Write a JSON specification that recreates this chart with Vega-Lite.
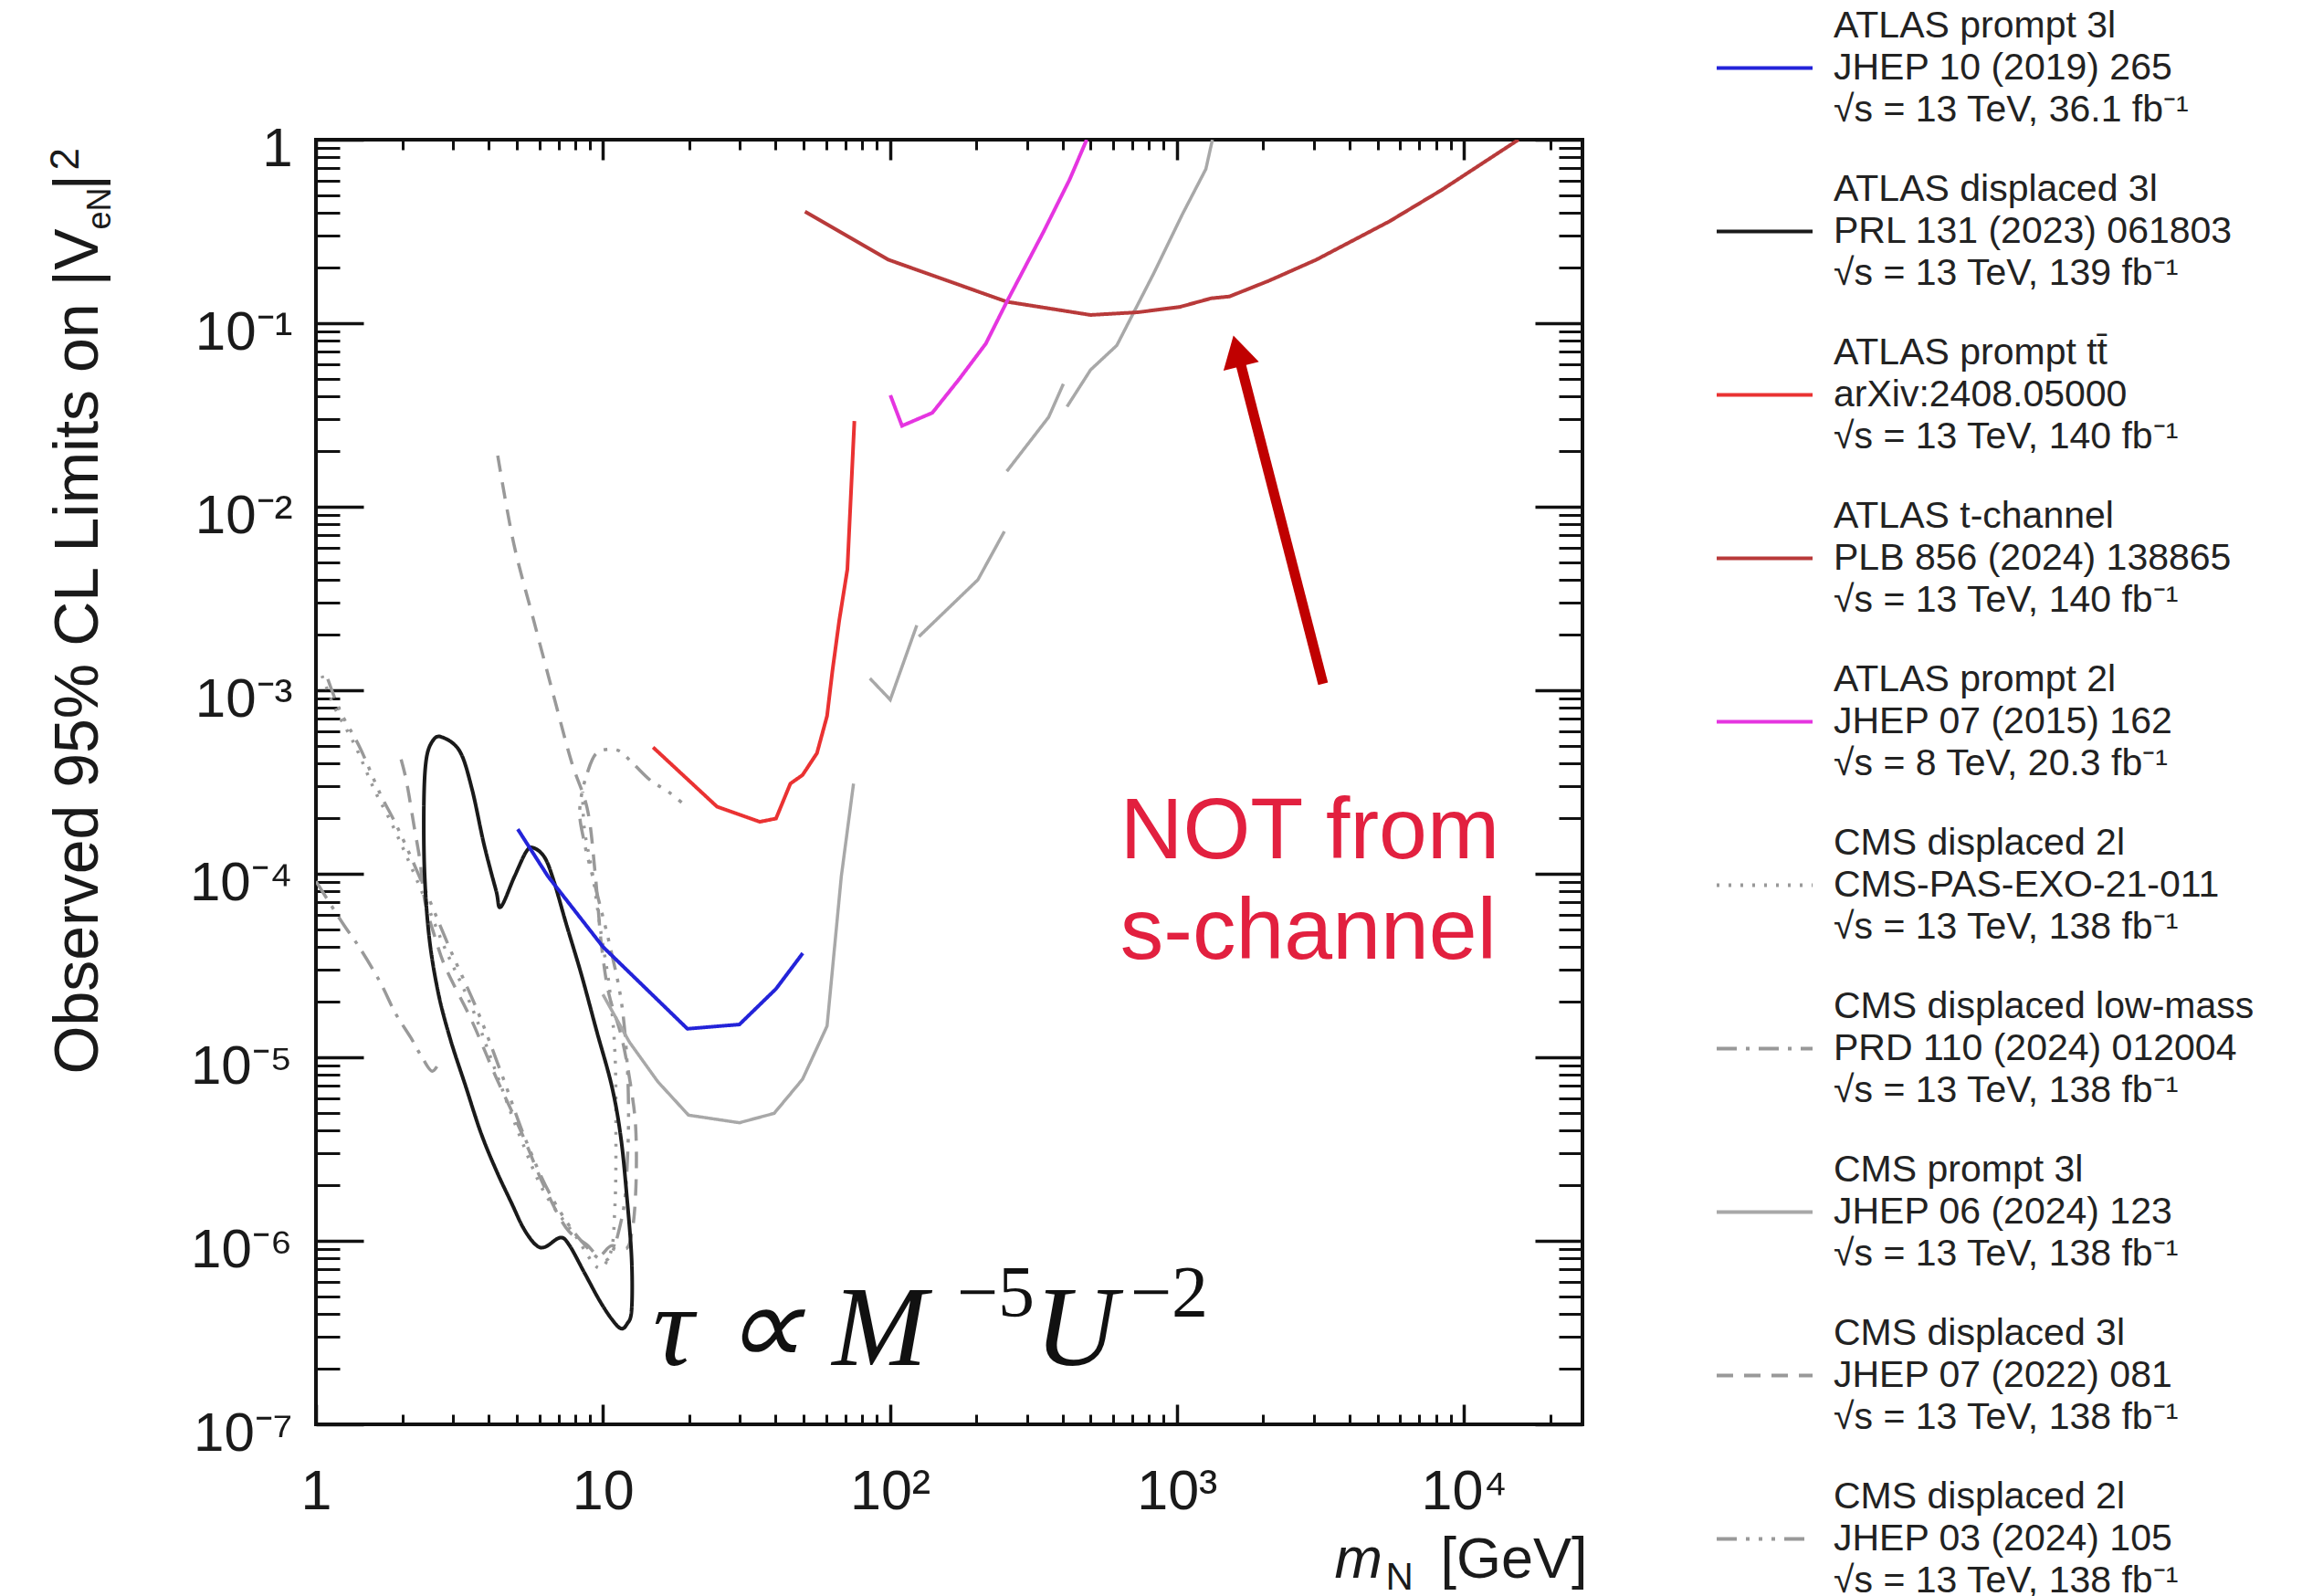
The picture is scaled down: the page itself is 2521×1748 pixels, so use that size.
{
  "$schema": "https://vega.github.io/schema/vega-lite/v6.json",
  "width": 1387,
  "height": 1407,
  "autosize": {"type": "none"},
  "padding": {"left": 346, "top": 153, "right": 788, "bottom": 188},
  "background": "white",
  "config": {
    "view": {"stroke": "#111111", "strokeWidth": 4},
    "font": "Liberation Sans",
    "axis": {"grid": false, "domain": false, "tickColor": "#111111", "labelColor": "#1a1a1a", "titleColor": "#1a1a1a", "titleFontWeight": "normal", "labelFont": "Liberation Sans", "titleFont": "Liberation Sans", "labelFlush": false, "labelOverlap": false, "labelBound": false}
  },
  "datasets": {
    "curves": [
      {"s": "a3l", "g": 1, "o": 1, "x": 5.05, "y": 1.75e-4},
      {"s": "a3l", "g": 1, "o": 2, "x": 6.43, "y": 9.7e-5},
      {"s": "a3l", "g": 1, "o": 3, "x": 10.0, "y": 4.0e-5},
      {"s": "a3l", "g": 1, "o": 4, "x": 19.7, "y": 1.43e-5},
      {"s": "a3l", "g": 1, "o": 5, "x": 29.9, "y": 1.51e-5},
      {"s": "a3l", "g": 1, "o": 6, "x": 40.1, "y": 2.36e-5},
      {"s": "a3l", "g": 1, "o": 7, "x": 49.7, "y": 3.69e-5},

      {"s": "adisp", "g": 1, "o": 1, "x": 2.735, "y": 5.57e-4},
      {"s": "adisp", "g": 1, "o": 2, "x": 3.166, "y": 4.67e-4},
      {"s": "adisp", "g": 1, "o": 3, "x": 3.493, "y": 2.92e-4},
      {"s": "adisp", "g": 1, "o": 4, "x": 3.85, "y": 1.45e-4},
      {"s": "adisp", "g": 1, "o": 5, "x": 4.244, "y": 8.09e-5},
      {"s": "adisp", "g": 1, "o": 6, "x": 4.404, "y": 6.59e-5},
      {"s": "adisp", "g": 1, "o": 7, "x": 4.915, "y": 9.64e-5},
      {"s": "adisp", "g": 1, "o": 8, "x": 5.42, "y": 1.33e-4},
      {"s": "adisp", "g": 1, "o": 9, "x": 5.76, "y": 1.38e-4},
      {"s": "adisp", "g": 1, "o": 10, "x": 6.28, "y": 1.22e-4},
      {"s": "adisp", "g": 1, "o": 11, "x": 6.75, "y": 9.09e-5},
      {"s": "adisp", "g": 1, "o": 12, "x": 7.44, "y": 5.37e-5},
      {"s": "adisp", "g": 1, "o": 13, "x": 8.41, "y": 2.83e-5},
      {"s": "adisp", "g": 1, "o": 14, "x": 9.5, "y": 1.4e-5},
      {"s": "adisp", "g": 1, "o": 15, "x": 10.74, "y": 6.95e-6},
      {"s": "adisp", "g": 1, "o": 16, "x": 11.55, "y": 3.65e-6},
      {"s": "adisp", "g": 1, "o": 17, "x": 12.13, "y": 1.71e-6},
      {"s": "adisp", "g": 1, "o": 18, "x": 12.59, "y": 7.98e-7},
      {"s": "adisp", "g": 1, "o": 19, "x": 12.59, "y": 4.2e-7},
      {"s": "adisp", "g": 1, "o": 20, "x": 12.13, "y": 3.52e-7},
      {"s": "adisp", "g": 1, "o": 21, "x": 11.55, "y": 3.33e-7},
      {"s": "adisp", "g": 1, "o": 22, "x": 10.74, "y": 3.74e-7},
      {"s": "adisp", "g": 1, "o": 23, "x": 9.74, "y": 4.72e-7},
      {"s": "adisp", "g": 1, "o": 24, "x": 8.62, "y": 6.7e-7},
      {"s": "adisp", "g": 1, "o": 25, "x": 7.62, "y": 9.52e-7},
      {"s": "adisp", "g": 1, "o": 26, "x": 7.09, "y": 1.04e-6},
      {"s": "adisp", "g": 1, "o": 27, "x": 6.28, "y": 9.25e-7},
      {"s": "adisp", "g": 1, "o": 28, "x": 5.83, "y": 9.52e-7},
      {"s": "adisp", "g": 1, "o": 29, "x": 5.29, "y": 1.17e-6},
      {"s": "adisp", "g": 1, "o": 30, "x": 4.8, "y": 1.61e-6},
      {"s": "adisp", "g": 1, "o": 31, "x": 4.244, "y": 2.43e-6},
      {"s": "adisp", "g": 1, "o": 32, "x": 3.758, "y": 3.87e-6},
      {"s": "adisp", "g": 1, "o": 33, "x": 3.325, "y": 6.95e-6},
      {"s": "adisp", "g": 1, "o": 34, "x": 2.942, "y": 1.25e-5},
      {"s": "adisp", "g": 1, "o": 35, "x": 2.669, "y": 2.24e-5},
      {"s": "adisp", "g": 1, "o": 36, "x": 2.481, "y": 4.51e-5},
      {"s": "adisp", "g": 1, "o": 37, "x": 2.39, "y": 1.02e-4},
      {"s": "adisp", "g": 1, "o": 38, "x": 2.378, "y": 2.45e-4},
      {"s": "adisp", "g": 1, "o": 39, "x": 2.421, "y": 4.15e-4},
      {"s": "adisp", "g": 1, "o": 40, "x": 2.541, "y": 5.25e-4},

      {"s": "att", "g": 1, "o": 1, "x": 14.95, "y": 4.89e-4},
      {"s": "att", "g": 1, "o": 2, "x": 24.99, "y": 2.32e-4},
      {"s": "att", "g": 1, "o": 3, "x": 35.2, "y": 1.92e-4},
      {"s": "att", "g": 1, "o": 4, "x": 40.1, "y": 2.0e-4},
      {"s": "att", "g": 1, "o": 5, "x": 45.0, "y": 3.1e-4},
      {"s": "att", "g": 1, "o": 6, "x": 49.6, "y": 3.45e-4},
      {"s": "att", "g": 1, "o": 7, "x": 55.7, "y": 4.54e-4},
      {"s": "att", "g": 1, "o": 8, "x": 60.4, "y": 7.24e-4},
      {"s": "att", "g": 1, "o": 9, "x": 63.0, "y": 1.26e-3},
      {"s": "att", "g": 1, "o": 10, "x": 66.6, "y": 2.4e-3},
      {"s": "att", "g": 1, "o": 11, "x": 71.1, "y": 4.56e-3},
      {"s": "att", "g": 1, "o": 12, "x": 75.2, "y": 2.93e-2},

      {"s": "atch", "g": 1, "o": 1, "x": 50.6, "y": 0.406},
      {"s": "atch", "g": 1, "o": 2, "x": 99.1, "y": 0.2214},
      {"s": "atch", "g": 1, "o": 3, "x": 255.5, "y": 0.1309},
      {"s": "atch", "g": 1, "o": 4, "x": 500.4, "y": 0.1109},
      {"s": "atch", "g": 1, "o": 5, "x": 730.6, "y": 0.1147},
      {"s": "atch", "g": 1, "o": 6, "x": 1023, "y": 0.1226},
      {"s": "atch", "g": 1, "o": 7, "x": 1317, "y": 0.1367},
      {"s": "atch", "g": 1, "o": 8, "x": 1526, "y": 0.1399},
      {"s": "atch", "g": 1, "o": 9, "x": 2092, "y": 0.1703},
      {"s": "atch", "g": 1, "o": 10, "x": 3054, "y": 0.2214},
      {"s": "atch", "g": 1, "o": 11, "x": 5501, "y": 0.3587},
      {"s": "atch", "g": 1, "o": 12, "x": 8375, "y": 0.5325},
      {"s": "atch", "g": 1, "o": 13, "x": 15500, "y": 1.0},

      {"s": "a2l", "g": 1, "o": 1, "x": 100.4, "y": 0.0405},
      {"s": "a2l", "g": 1, "o": 2, "x": 110.2, "y": 0.0276},
      {"s": "a2l", "g": 1, "o": 3, "x": 140.6, "y": 0.0325},
      {"s": "a2l", "g": 1, "o": 4, "x": 174.9, "y": 0.0499},
      {"s": "a2l", "g": 1, "o": 5, "x": 215.9, "y": 0.0774},
      {"s": "a2l", "g": 1, "o": 6, "x": 255.5, "y": 0.1309},
      {"s": "a2l", "g": 1, "o": 7, "x": 342.9, "y": 0.3144},
      {"s": "a2l", "g": 1, "o": 8, "x": 423.2, "y": 0.6076},
      {"s": "a2l", "g": 1, "o": 9, "x": 485, "y": 1.0},

      {"s": "c3l", "g": 1, "o": 1, "x": 10.0, "y": 2.2e-5},
      {"s": "c3l", "g": 1, "o": 2, "x": 12.37, "y": 1.21e-5},
      {"s": "c3l", "g": 1, "o": 3, "x": 15.54, "y": 7.36e-6},
      {"s": "c3l", "g": 1, "o": 4, "x": 19.87, "y": 4.84e-6},
      {"s": "c3l", "g": 1, "o": 5, "x": 29.9, "y": 4.4e-6},
      {"s": "c3l", "g": 1, "o": 6, "x": 39.5, "y": 4.95e-6},
      {"s": "c3l", "g": 1, "o": 7, "x": 49.6, "y": 7.59e-6},
      {"s": "c3l", "g": 1, "o": 8, "x": 60.4, "y": 1.48e-5},
      {"s": "c3l", "g": 1, "o": 9, "x": 67.7, "y": 9.64e-5},
      {"s": "c3l", "g": 1, "o": 10, "x": 74.7, "y": 3.1e-4},
      {"s": "c3l", "g": 2, "o": 11, "x": 85.2, "y": 1.16e-3},
      {"s": "c3l", "g": 2, "o": 12, "x": 100.3, "y": 8.88e-4},
      {"s": "c3l", "g": 2, "o": 13, "x": 124.1, "y": 2.26e-3},
      {"s": "c3l", "g": 3, "o": 14, "x": 126.2, "y": 1.96e-3},
      {"s": "c3l", "g": 3, "o": 15, "x": 202.6, "y": 4.0e-3},
      {"s": "c3l", "g": 3, "o": 16, "x": 250.6, "y": 7.34e-3},
      {"s": "c3l", "g": 4, "o": 17, "x": 255.5, "y": 1.56e-2},
      {"s": "c3l", "g": 4, "o": 18, "x": 357.5, "y": 3.08e-2},
      {"s": "c3l", "g": 4, "o": 19, "x": 402.3, "y": 4.67e-2},
      {"s": "c3l", "g": 5, "o": 20, "x": 414.2, "y": 3.51e-2},
      {"s": "c3l", "g": 5, "o": 21, "x": 500.4, "y": 5.57e-2},
      {"s": "c3l", "g": 5, "o": 22, "x": 617.6, "y": 7.57e-2},
      {"s": "c3l", "g": 5, "o": 23, "x": 829, "y": 0.1858},
      {"s": "c3l", "g": 5, "o": 24, "x": 1045, "y": 0.3918},
      {"s": "c3l", "g": 5, "o": 25, "x": 1262, "y": 0.692},
      {"s": "c3l", "g": 5, "o": 26, "x": 1330, "y": 1.0},

      {"s": "clow", "g": 1, "o": 1, "x": 1.0, "y": 9.1e-5},
      {"s": "clow", "g": 1, "o": 2, "x": 1.252, "y": 5.25e-5},
      {"s": "clow", "g": 1, "o": 3, "x": 1.413, "y": 4.0e-5},
      {"s": "clow", "g": 1, "o": 4, "x": 1.68, "y": 2.54e-5},
      {"s": "clow", "g": 1, "o": 5, "x": 1.895, "y": 1.73e-5},
      {"s": "clow", "g": 1, "o": 6, "x": 2.14, "y": 1.28e-5},
      {"s": "clow", "g": 1, "o": 7, "x": 2.36, "y": 9.8e-6},
      {"s": "clow", "g": 1, "o": 8, "x": 2.54, "y": 8.4e-6},
      {"s": "clow", "g": 1, "o": 9, "x": 2.64, "y": 8.9e-6},

      {"s": "cpas", "g": 1, "o": 1, "x": 1.05, "y": 1.2e-3},
      {"s": "cpas", "g": 1, "o": 2, "x": 1.16, "y": 8.1e-4},
      {"s": "cpas", "g": 1, "o": 3, "x": 1.36, "y": 5.1e-4},
      {"s": "cpas", "g": 1, "o": 4, "x": 1.61, "y": 2.8e-4},
      {"s": "cpas", "g": 1, "o": 5, "x": 1.83, "y": 1.9e-4},
      {"s": "cpas", "g": 1, "o": 6, "x": 2.3, "y": 8.5e-5},
      {"s": "cpas", "g": 1, "o": 7, "x": 2.8, "y": 4.0e-5},
      {"s": "cpas", "g": 1, "o": 8, "x": 3.49, "y": 1.88e-5},
      {"s": "cpas", "g": 1, "o": 9, "x": 4.24, "y": 8.3e-6},
      {"s": "cpas", "g": 1, "o": 10, "x": 5.16, "y": 3.65e-6},
      {"s": "cpas", "g": 1, "o": 11, "x": 6.28, "y": 1.81e-6},
      {"s": "cpas", "g": 1, "o": 12, "x": 8.0, "y": 1.07e-6},
      {"s": "cpas", "g": 1, "o": 13, "x": 9.74, "y": 7.1e-7},
      {"s": "cpas", "g": 1, "o": 14, "x": 10.6, "y": 8.5e-7},
      {"s": "cpas", "g": 1, "o": 15, "x": 11.0, "y": 1.5e-6},
      {"s": "cpas", "g": 1, "o": 16, "x": 11.1, "y": 4.0e-6},
      {"s": "cpas", "g": 1, "o": 17, "x": 11.0, "y": 1.1e-5},
      {"s": "cpas", "g": 1, "o": 18, "x": 10.5, "y": 2.5e-5},
      {"s": "cpas", "g": 1, "o": 19, "x": 9.8, "y": 5.0e-5},
      {"s": "cpas", "g": 1, "o": 20, "x": 9.2, "y": 1.0e-4},
      {"s": "cpas", "g": 1, "o": 21, "x": 8.6, "y": 1.8e-4},
      {"s": "cpas", "g": 1, "o": 22, "x": 8.5, "y": 2.8e-4},

      {"s": "cd2l", "g": 1, "o": 1, "x": 1.1, "y": 1.15e-3},
      {"s": "cd2l", "g": 1, "o": 2, "x": 1.21, "y": 7.8e-4},
      {"s": "cd2l", "g": 1, "o": 3, "x": 1.42, "y": 4.9e-4},
      {"s": "cd2l", "g": 1, "o": 4, "x": 1.68, "y": 2.7e-4},
      {"s": "cd2l", "g": 1, "o": 5, "x": 1.92, "y": 1.8e-4},
      {"s": "cd2l", "g": 1, "o": 6, "x": 2.4, "y": 8.2e-5},
      {"s": "cd2l", "g": 1, "o": 7, "x": 2.93, "y": 3.9e-5},
      {"s": "cd2l", "g": 1, "o": 8, "x": 3.65, "y": 1.8e-5},
      {"s": "cd2l", "g": 1, "o": 9, "x": 4.45, "y": 8.0e-6},
      {"s": "cd2l", "g": 1, "o": 10, "x": 5.4, "y": 3.5e-6},
      {"s": "cd2l", "g": 1, "o": 11, "x": 6.6, "y": 1.75e-6},
      {"s": "cd2l", "g": 1, "o": 12, "x": 8.4, "y": 1.0e-6},
      {"s": "cd2l", "g": 1, "o": 13, "x": 10.2, "y": 7.8e-7},
      {"s": "cd2l", "g": 1, "o": 14, "x": 11.6, "y": 1.3e-6},
      {"s": "cd2l", "g": 1, "o": 15, "x": 12.2, "y": 3.0e-6},
      {"s": "cd2l", "g": 1, "o": 16, "x": 12.2, "y": 8.0e-6},
      {"s": "cd2l", "g": 1, "o": 17, "x": 11.6, "y": 2.0e-5},
      {"s": "cd2l", "g": 1, "o": 18, "x": 10.6, "y": 4.0e-5},
      {"s": "cd2l", "g": 1, "o": 19, "x": 9.5, "y": 8.0e-5},
      {"s": "cd2l", "g": 1, "o": 20, "x": 8.6, "y": 1.5e-4},
      {"s": "cd2l", "g": 1, "o": 21, "x": 8.3, "y": 2.2e-4},
      {"s": "cd2l", "g": 1, "o": 22, "x": 8.8, "y": 3.5e-4},
      {"s": "cd2l", "g": 1, "o": 23, "x": 9.6, "y": 4.6e-4},
      {"s": "cd2l", "g": 1, "o": 24, "x": 11.3, "y": 4.7e-4},
      {"s": "cd2l", "g": 1, "o": 25, "x": 12.7, "y": 4.0e-4},
      {"s": "cd2l", "g": 1, "o": 26, "x": 14.75, "y": 3.2e-4},
      {"s": "cd2l", "g": 1, "o": 27, "x": 16.9, "y": 2.8e-4},
      {"s": "cd2l", "g": 1, "o": 28, "x": 19.5, "y": 2.33e-4},

      {"s": "cd3l", "g": 1, "o": 1, "x": 4.3, "y": 1.9e-2},
      {"s": "cd3l", "g": 1, "o": 2, "x": 4.9, "y": 6.2e-3},
      {"s": "cd3l", "g": 1, "o": 3, "x": 5.7, "y": 2.5e-3},
      {"s": "cd3l", "g": 1, "o": 4, "x": 6.75, "y": 9.2e-4},
      {"s": "cd3l", "g": 1, "o": 5, "x": 7.8, "y": 4.0e-4},
      {"s": "cd3l", "g": 1, "o": 6, "x": 8.8, "y": 2.3e-4},
      {"s": "cd3l", "g": 1, "o": 7, "x": 9.4, "y": 1.0e-4},
      {"s": "cd3l", "g": 1, "o": 8, "x": 9.9, "y": 4.0e-5},
      {"s": "cd3l", "g": 1, "o": 9, "x": 10.5, "y": 2.2e-5},
      {"s": "cd3l", "g": 1, "o": 10, "x": 11.6, "y": 1.3e-5},
      {"s": "cd3l", "g": 1, "o": 11, "x": 12.5, "y": 7.0e-6},
      {"s": "cd3l", "g": 1, "o": 12, "x": 13.0, "y": 4.2e-6},
      {"s": "cd3l", "g": 1, "o": 13, "x": 13.0, "y": 1.8e-6},
      {"s": "cd3l", "g": 1, "o": 14, "x": 12.6, "y": 1.1e-6},
      {"s": "cd3l", "g": 1, "o": 15, "x": 12.1, "y": 9.1e-7},
      {"s": "cd3l", "g": 1, "o": 16, "x": 10.7, "y": 9.4e-7},
      {"s": "cd3l", "g": 1, "o": 17, "x": 9.7, "y": 8.3e-7},
      {"s": "cd3l", "g": 1, "o": 18, "x": 8.8, "y": 9.5e-7},
      {"s": "cd3l", "g": 1, "o": 19, "x": 7.6, "y": 1.13e-6},
      {"s": "cd3l", "g": 1, "o": 20, "x": 6.3, "y": 1.92e-6},
      {"s": "cd3l", "g": 1, "o": 21, "x": 5.2, "y": 3.9e-6},
      {"s": "cd3l", "g": 1, "o": 22, "x": 4.24, "y": 7.8e-6},
      {"s": "cd3l", "g": 1, "o": 23, "x": 3.5, "y": 1.57e-5},
      {"s": "cd3l", "g": 1, "o": 24, "x": 2.8, "y": 3.2e-5},
      {"s": "cd3l", "g": 1, "o": 25, "x": 2.6, "y": 4.5e-5},
      {"s": "cd3l", "g": 1, "o": 26, "x": 2.4, "y": 7.0e-5},
      {"s": "cd3l", "g": 1, "o": 27, "x": 2.3, "y": 1.2e-4},
      {"s": "cd3l", "g": 1, "o": 28, "x": 2.2, "y": 1.8e-4},
      {"s": "cd3l", "g": 1, "o": 29, "x": 2.05, "y": 3.4e-4},
      {"s": "cd3l", "g": 1, "o": 30, "x": 1.94, "y": 4.7e-4}
    ]
  },
  "resolve": {"axis": {"x": "independent", "y": "independent"}},
  "layer": [
    {
      "data": {"name": "curves"},
      "transform": [{"filter": "indexof(['cpas', 'clow', 'cd3l', 'cd2l'], datum.s) >= 0"}],
      "mark": {"type": "line", "interpolate": "catmull-rom", "strokeWidth": 3.5, "clip": true},
      "encoding": {
        "x": {"field": "x", "type": "quantitative", "scale": {"type": "log", "domain": [1, 25900], "nice": false},
          "axis": {"orient": "bottom", "values": [1, 10, 100, 1000, 10000], "tickSize": -22, "tickWidth": 3.5,
            "labelExpr": "datum.value < 5 ? '1' : datum.value < 50 ? '10' : '10' + ['', '', '²', '³', '⁴'][round(log(datum.value) / LN10)]",
            "labelFontSize": 61, "labelPadding": 66,
            "title": "m", "titleFontStyle": "italic", "titleFontSize": 63, "titleX": 1115, "titleY": 167, "titleAlign": "left", "titleBaseline": "alphabetic"}},
        "y": {"field": "y", "type": "quantitative", "scale": {"type": "log", "domain": [1e-7, 1], "nice": false},
          "axis": {"orient": "left", "values": [1e-7, 1e-6, 1e-5, 1e-4, 1e-3, 1e-2, 1e-1, 1], "tickSize": -52, "tickWidth": 3.5,
            "labelExpr": "datum.value > 0.5 ? '1' : '10⁻' + ['', '¹', '²', '³', '⁴', '⁵', '⁶', '⁷'][round(-log(datum.value) / LN10)]",
            "labelFontSize": 60, "labelPadding": 78, "labelOffset": 10,
            "title": "Observed 95% CL Limits on |V", "titleFontSize": 68, "titleAngle": 270, "titleX": -240, "titleY": 1023, "titleAlign": "left", "titleBaseline": "alphabetic"}},
        "color": {"field": "s", "type": "nominal",
          "scale": {"domain": ["a3l", "adisp", "att", "atch", "a2l", "cpas", "clow", "c3l", "cd3l", "cd2l"], "range": ["#2323d9", "#1a1a1a", "#ea3232", "#b83a3a", "#e535e0", "#999999", "#999999", "#a8a8a8", "#999999", "#999999"]},
          "legend": {"orient": "none", "legendX": 1532, "legendY": -133, "title": null, "symbolType": "stroke", "symbolSize": 11025, "symbolStrokeWidth": 4, "labelFontSize": 41, "labelFont": "Liberation Sans", "labelColor": "#222222", "labelLimit": 800, "labelOffset": 21, "rowPadding": 45, "padding": 0,
            "labelExpr": "datum.label == 'a3l' ? ['ATLAS prompt 3l', 'JHEP 10 (2019) 265', '√s = 13 TeV, 36.1 fb⁻¹'] : datum.label == 'adisp' ? ['ATLAS displaced 3l', 'PRL 131 (2023) 061803', '√s = 13 TeV, 139 fb⁻¹'] : datum.label == 'att' ? ['ATLAS prompt tt̄', 'arXiv:2408.05000', '√s = 13 TeV, 140 fb⁻¹'] : datum.label == 'atch' ? ['ATLAS t-channel', 'PLB 856 (2024) 138865', '√s = 13 TeV, 140 fb⁻¹'] : datum.label == 'a2l' ? ['ATLAS prompt 2l', 'JHEP 07 (2015) 162', '√s = 8 TeV, 20.3 fb⁻¹'] : datum.label == 'cpas' ? ['CMS displaced 2l', 'CMS-PAS-EXO-21-011', '√s = 13 TeV, 138 fb⁻¹'] : datum.label == 'clow' ? ['CMS displaced low-mass', 'PRD 110 (2024) 012004', '√s = 13 TeV, 138 fb⁻¹'] : datum.label == 'c3l' ? ['CMS prompt 3l', 'JHEP 06 (2024) 123', '√s = 13 TeV, 138 fb⁻¹'] : datum.label == 'cd3l' ? ['CMS displaced 3l', 'JHEP 07 (2022) 081', '√s = 13 TeV, 138 fb⁻¹'] : ['CMS displaced 2l', 'JHEP 03 (2024) 105', '√s = 13 TeV, 138 fb⁻¹']",
            "encoding": {"labels": {"lineHeight": {"value": 46}, "dy": {"value": -46}}}}},
        "strokeDash": {"field": "s", "type": "nominal",
          "scale": {"domain": ["a3l", "adisp", "att", "atch", "a2l", "cpas", "clow", "c3l", "cd3l", "cd2l"], "range": [[1, 0], [1, 0], [1, 0], [1, 0], [1, 0], [3, 10], [22, 10, 4, 10], [1, 0], [18, 12], [22, 10, 4, 10, 4, 10, 4, 10]]},
          "legend": {"orient": "none", "legendX": 1532, "legendY": -133, "title": null, "symbolType": "stroke", "symbolSize": 11025, "symbolStrokeWidth": 4, "labelFontSize": 41, "labelFont": "Liberation Sans", "labelColor": "#222222", "labelLimit": 800, "labelOffset": 21, "rowPadding": 45, "padding": 0,
            "labelExpr": "datum.label == 'a3l' ? ['ATLAS prompt 3l', 'JHEP 10 (2019) 265', '√s = 13 TeV, 36.1 fb⁻¹'] : datum.label == 'adisp' ? ['ATLAS displaced 3l', 'PRL 131 (2023) 061803', '√s = 13 TeV, 139 fb⁻¹'] : datum.label == 'att' ? ['ATLAS prompt tt̄', 'arXiv:2408.05000', '√s = 13 TeV, 140 fb⁻¹'] : datum.label == 'atch' ? ['ATLAS t-channel', 'PLB 856 (2024) 138865', '√s = 13 TeV, 140 fb⁻¹'] : datum.label == 'a2l' ? ['ATLAS prompt 2l', 'JHEP 07 (2015) 162', '√s = 8 TeV, 20.3 fb⁻¹'] : datum.label == 'cpas' ? ['CMS displaced 2l', 'CMS-PAS-EXO-21-011', '√s = 13 TeV, 138 fb⁻¹'] : datum.label == 'clow' ? ['CMS displaced low-mass', 'PRD 110 (2024) 012004', '√s = 13 TeV, 138 fb⁻¹'] : datum.label == 'c3l' ? ['CMS prompt 3l', 'JHEP 06 (2024) 123', '√s = 13 TeV, 138 fb⁻¹'] : datum.label == 'cd3l' ? ['CMS displaced 3l', 'JHEP 07 (2022) 081', '√s = 13 TeV, 138 fb⁻¹'] : ['CMS displaced 2l', 'JHEP 03 (2024) 105', '√s = 13 TeV, 138 fb⁻¹']",
            "encoding": {"labels": {"lineHeight": {"value": 46}, "dy": {"value": -46}}}}},
        "detail": {"field": "g", "type": "nominal"},
        "order": {"field": "o", "type": "quantitative"}
      }
    },
    {
      "data": {"name": "curves"},
      "transform": [{"filter": "datum.s == 'c3l'"}],
      "mark": {"type": "line", "interpolate": "linear", "strokeWidth": 3.5, "clip": true},
      "encoding": {
        "x": {"field": "x", "type": "quantitative", "scale": {"type": "log", "domain": [1, 25900], "nice": false},
          "axis": {"orient": "bottom", "values": [2, 3, 4, 5, 6, 7, 8, 9, 20, 30, 40, 50, 60, 70, 80, 90, 200, 300, 400, 500, 600, 700, 800, 900, 2000, 3000, 4000, 5000, 6000, 7000, 8000, 9000, 20000], "tickSize": -11, "tickWidth": 3, "labels": false,
            "title": "N", "titleFontSize": 42, "titleX": 1171, "titleY": 180, "titleAlign": "left", "titleBaseline": "alphabetic"}},
        "y": {"field": "y", "type": "quantitative", "scale": {"type": "log", "domain": [1e-7, 1], "nice": false},
          "axis": {"orient": "left", "values": [2e-7, 3e-7, 4e-7, 5e-7, 6e-7, 7e-7, 8e-7, 9e-7, 2e-6, 3e-6, 4e-6, 5e-6, 6e-6, 7e-6, 8e-6, 9e-6, 2e-5, 3e-5, 4e-5, 5e-5, 6e-5, 7e-5, 8e-5, 9e-5, 2e-4, 3e-4, 4e-4, 5e-4, 6e-4, 7e-4, 8e-4, 9e-4, 2e-3, 3e-3, 4e-3, 5e-3, 6e-3, 7e-3, 8e-3, 9e-3, 2e-2, 3e-2, 4e-2, 5e-2, 6e-2, 7e-2, 8e-2, 9e-2, 0.2, 0.3, 0.4, 0.5, 0.6, 0.7, 0.8, 0.9], "tickSize": -26, "tickWidth": 3, "labels": false,
            "title": "eN", "titleFontSize": 36, "titleAngle": 270, "titleX": -226, "titleY": 98, "titleAlign": "left", "titleBaseline": "alphabetic"}},
        "color": {"field": "s", "type": "nominal",
          "scale": {"domain": ["a3l", "adisp", "att", "atch", "a2l", "cpas", "clow", "c3l", "cd3l", "cd2l"], "range": ["#2323d9", "#1a1a1a", "#ea3232", "#b83a3a", "#e535e0", "#999999", "#999999", "#a8a8a8", "#999999", "#999999"]}},
        "strokeDash": {"field": "s", "type": "nominal",
          "scale": {"domain": ["a3l", "adisp", "att", "atch", "a2l", "cpas", "clow", "c3l", "cd3l", "cd2l"], "range": [[1, 0], [1, 0], [1, 0], [1, 0], [1, 0], [3, 10], [22, 10, 4, 10], [1, 0], [18, 12], [22, 10, 4, 10, 4, 10, 4, 10]]}},
        "detail": {"field": "g", "type": "nominal"},
        "order": {"field": "o", "type": "quantitative"}
      }
    },
    {
      "data": {"name": "curves"},
      "transform": [{"filter": "datum.s == 'adisp'"}],
      "mark": {"type": "line", "interpolate": "cardinal-closed", "strokeWidth": 4, "clip": true},
      "encoding": {
        "x": {"field": "x", "type": "quantitative", "scale": {"type": "log", "domain": [1, 25900], "nice": false},
          "axis": {"orient": "top", "values": [1, 10, 100, 1000, 10000], "tickSize": -22, "tickWidth": 3.5, "labels": false,
            "title": "[GeV]", "titleFontSize": 63, "titleX": 1392, "titleY": 1574, "titleAlign": "right", "titleBaseline": "alphabetic"}},
        "y": {"field": "y", "type": "quantitative", "scale": {"type": "log", "domain": [1e-7, 1], "nice": false},
          "axis": {"orient": "right", "values": [1e-7, 1e-6, 1e-5, 1e-4, 1e-3, 1e-2, 1e-1, 1], "tickSize": -52, "tickWidth": 3.5, "labels": false,
            "title": "|", "titleFontSize": 68, "titleAngle": 270, "titleX": -1627, "titleY": 55, "titleAlign": "left", "titleBaseline": "alphabetic"}},
        "color": {"field": "s", "type": "nominal",
          "scale": {"domain": ["a3l", "adisp", "att", "atch", "a2l", "cpas", "clow", "c3l", "cd3l", "cd2l"], "range": ["#2323d9", "#1a1a1a", "#ea3232", "#b83a3a", "#e535e0", "#999999", "#999999", "#a8a8a8", "#999999", "#999999"]}},
        "strokeDash": {"field": "s", "type": "nominal",
          "scale": {"domain": ["a3l", "adisp", "att", "atch", "a2l", "cpas", "clow", "c3l", "cd3l", "cd2l"], "range": [[1, 0], [1, 0], [1, 0], [1, 0], [1, 0], [3, 10], [22, 10, 4, 10], [1, 0], [18, 12], [22, 10, 4, 10, 4, 10, 4, 10]]}},
        "order": {"field": "o", "type": "quantitative"}
      }
    },
    {
      "data": {"name": "curves"},
      "transform": [{"filter": "indexof(['a3l', 'att', 'atch', 'a2l'], datum.s) >= 0"}],
      "mark": {"type": "line", "interpolate": "linear", "strokeWidth": 4, "clip": true},
      "encoding": {
        "x": {"field": "x", "type": "quantitative", "scale": {"type": "log", "domain": [1, 25900], "nice": false},
          "axis": {"orient": "top", "values": [2, 3, 4, 5, 6, 7, 8, 9, 20, 30, 40, 50, 60, 70, 80, 90, 200, 300, 400, 500, 600, 700, 800, 900, 2000, 3000, 4000, 5000, 6000, 7000, 8000, 9000, 20000], "tickSize": -11, "tickWidth": 3, "labels": false, "title": null}},
        "y": {"field": "y", "type": "quantitative", "scale": {"type": "log", "domain": [1e-7, 1], "nice": false},
          "axis": {"orient": "right", "values": [2e-7, 3e-7, 4e-7, 5e-7, 6e-7, 7e-7, 8e-7, 9e-7, 2e-6, 3e-6, 4e-6, 5e-6, 6e-6, 7e-6, 8e-6, 9e-6, 2e-5, 3e-5, 4e-5, 5e-5, 6e-5, 7e-5, 8e-5, 9e-5, 2e-4, 3e-4, 4e-4, 5e-4, 6e-4, 7e-4, 8e-4, 9e-4, 2e-3, 3e-3, 4e-3, 5e-3, 6e-3, 7e-3, 8e-3, 9e-3, 2e-2, 3e-2, 4e-2, 5e-2, 6e-2, 7e-2, 8e-2, 9e-2, 0.2, 0.3, 0.4, 0.5, 0.6, 0.7, 0.8, 0.9], "tickSize": -26, "tickWidth": 3, "labels": false,
            "title": "2", "titleFontSize": 44, "titleAngle": 270, "titleX": -1648, "titleY": 33, "titleAlign": "left", "titleBaseline": "alphabetic"}},
        "color": {"field": "s", "type": "nominal",
          "scale": {"domain": ["a3l", "adisp", "att", "atch", "a2l", "cpas", "clow", "c3l", "cd3l", "cd2l"], "range": ["#2323d9", "#1a1a1a", "#ea3232", "#b83a3a", "#e535e0", "#999999", "#999999", "#a8a8a8", "#999999", "#999999"]}},
        "strokeDash": {"field": "s", "type": "nominal",
          "scale": {"domain": ["a3l", "adisp", "att", "atch", "a2l", "cpas", "clow", "c3l", "cd3l", "cd2l"], "range": [[1, 0], [1, 0], [1, 0], [1, 0], [1, 0], [3, 10], [22, 10, 4, 10], [1, 0], [18, 12], [22, 10, 4, 10, 4, 10, 4, 10]]}},
        "order": {"field": "o", "type": "quantitative"}
      }
    },
    {
      "data": {"values": [
        {"t": "NOT from", "x": 635, "y": 1.215e-4},
        {"t": "s-channel", "x": 635, "y": 3.44e-5}
      ]},
      "mark": {"type": "text", "font": "Liberation Sans", "fontSize": 95, "color": "#e2203f", "align": "left", "baseline": "alphabetic"},
      "encoding": {
        "x": {"field": "x", "type": "quantitative", "scale": {"type": "log", "domain": [1, 25900], "nice": false}, "axis": null},
        "y": {"field": "y", "type": "quantitative", "scale": {"type": "log", "domain": [1e-7, 1], "nice": false}, "axis": null},
        "text": {"field": "t"}
      }
    },
    {
      "data": {"values": [{"x": 3232, "y": 1.084e-3, "x2": 1624, "y2": 0.0707}]},
      "mark": {"type": "rule", "color": "#c00000", "strokeWidth": 11},
      "encoding": {
        "x": {"field": "x", "type": "quantitative", "scale": {"type": "log", "domain": [1, 25900], "nice": false}, "axis": null},
        "y": {"field": "y", "type": "quantitative", "scale": {"type": "log", "domain": [1e-7, 1], "nice": false}, "axis": null},
        "x2": {"field": "x2"},
        "y2": {"field": "y2"}
      }
    },
    {
      "data": {"values": [{"x": 1624, "y": 0.0707}]},
      "mark": {"type": "point", "shape": "triangle-up", "angle": -14.2, "size": 1600, "filled": true, "opacity": 1, "color": "#c00000"},
      "encoding": {
        "x": {"field": "x", "type": "quantitative", "scale": {"type": "log", "domain": [1, 25900], "nice": false}, "axis": null},
        "y": {"field": "y", "type": "quantitative", "scale": {"type": "log", "domain": [1e-7, 1], "nice": false}, "axis": null}
      }
    },
    {
      "data": {"values": [
        {"t": "τ ∝ M", "x": 14.93, "y": 2.105e-7},
        {"t": "U", "x": 320, "y": 2.105e-7}
      ]},
      "mark": {"type": "text", "font": "Liberation Serif", "fontStyle": "italic", "fontSize": 125, "color": "#111111", "align": "left", "baseline": "alphabetic"},
      "encoding": {
        "x": {"field": "x", "type": "quantitative", "scale": {"type": "log", "domain": [1, 25900], "nice": false}, "axis": null},
        "y": {"field": "y", "type": "quantitative", "scale": {"type": "log", "domain": [1e-7, 1], "nice": false}, "axis": null},
        "text": {"field": "t"}
      }
    },
    {
      "data": {"values": [
        {"t": "−5", "x": 171.2, "y": 3.86e-7},
        {"t": "−2", "x": 688.7, "y": 3.86e-7}
      ]},
      "mark": {"type": "text", "font": "Liberation Serif", "fontSize": 80, "color": "#111111", "align": "left", "baseline": "alphabetic"},
      "encoding": {
        "x": {"field": "x", "type": "quantitative", "scale": {"type": "log", "domain": [1, 25900], "nice": false}, "axis": null},
        "y": {"field": "y", "type": "quantitative", "scale": {"type": "log", "domain": [1e-7, 1], "nice": false}, "axis": null},
        "text": {"field": "t"}
      }
    }
  ]
}
